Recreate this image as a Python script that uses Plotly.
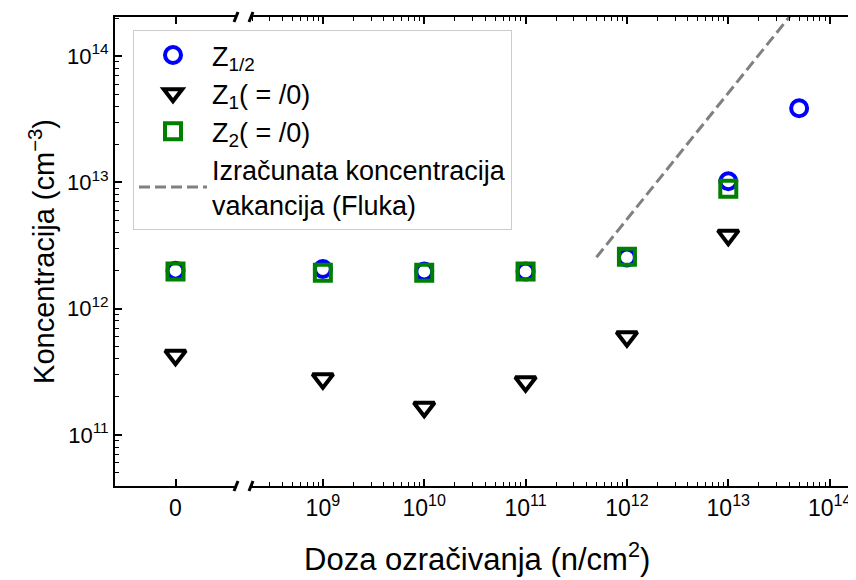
import plotly.graph_objects as go

# doza 0 ide na lijevi (linearni) dio osi, ostale doze na log dio
doza_nula = [0]
doze_z12 = [1e9, 1e10, 1e11, 1e12, 1e13, 5e13]
doze_z1 = [1e9, 1e10, 1e11, 1e12, 1e13]
doze_z2 = [1e9, 1e10, 1e11, 1e12, 1e13]

z12_nula = [2.0e12]
z12 = [2.06e12, 1.97e12, 1.97e12, 2.54e12, 1.02e13, 3.86e13]
z1_nula = [4.28e11]
z1 = [2.79e11, 1.66e11, 2.64e11, 6.0e11, 3.82e12]
z2_nula = [1.97e12]
z2 = [1.92e12, 1.92e12, 1.97e12, 2.58e12, 8.9e12]

# Fluka procjena koncentracije vakancija
fluka_doze = [5e11, 1e14]
fluka_konc = [2.55e12, 5.1e14]

x_tickovi = [1e9, 1e10, 1e11, 1e12, 1e13, 1e14]
x_oznake = ["10<sup>9</sup>", "10<sup>10</sup>", "10<sup>11</sup>", "10<sup>12</sup>",
            "10<sup>13</sup>", "10<sup>14</sup>"]
y_tickovi = [1e11, 1e12, 1e13, 1e14]
y_oznake = ["10<sup>11</sup>", "10<sup>12</sup>", "10<sup>13</sup>", "10<sup>14</sup>"]

FONT = "Liberation Sans, Arial, sans-serif"

# stranica ima 8px margine body-ja, pa je figura manja za 8px
POM = 8
SIR, VIS = 856 - POM, 580 - POM
LIJEVO, GORE, DOLJE = 115 - POM, 17 - POM, 486 - POM
sir_crt = SIR - LIJEVO
vis_crt = DOLJE - GORE

# prelom osi (u pikselima stvarne slike)
d1 = (236 - 115) / sir_crt
d2 = (251 - 115) / sir_crt

x_minor = [m * 10 ** e for e in range(8, 15) for m in range(2, 10)]
y_minor = [m * 10 ** e for e in range(10, 15) for m in range(2, 10)]

fig = go.Figure()

serije = [
    ("Z<sub>1/2</sub>", "circle-open", "#0000ff", 16, z12_nula, doze_z12, z12),
    ("Z<sub>1</sub>( = /0)", "triangle-down-open", "black", 18, z1_nula, doze_z1, z1),
    ("Z<sub>2</sub>( = /0)", "square-open", "#008000", 16, z2_nula, doze_z2, z2),
]

for ime, simbol, boja, vel, y0, xs, ys in serije:
    marker = dict(symbol=simbol, size=vel, color=boja, line=dict(width=4, color=boja))
    fig.add_trace(go.Scatter(x=doza_nula, y=y0, mode="markers", marker=marker, name=ime,
                             legendgroup=ime, showlegend=False, xaxis="x", yaxis="y"))
    fig.add_trace(go.Scatter(x=xs, y=ys, mode="markers", marker=marker, name=ime,
                             legendgroup=ime, xaxis="x2", yaxis="y"))

fig.add_trace(go.Scatter(x=fluka_doze, y=fluka_konc, mode="lines",
                         line=dict(color="#808080", width=3, dash="11px,5px"),
                         name="Izračunata koncentracija<br>vakancija (Fluka)",
                         xaxis="x2", yaxis="y2"))

os_stil = dict(ticks="inside", ticklen=7, tickwidth=1.5, tickcolor="black",
               showline=True, linewidth=1.8, linecolor="black",
               showgrid=False, zeroline=False, automargin=False)

y_raspon = [10.596, 14.309]

fig.update_layout(
    width=SIR, height=VIS,
    margin=dict(l=LIJEVO, r=0, t=GORE, b=VIS - DOLJE),
    plot_bgcolor="white", paper_bgcolor="white",
    font=dict(family=FONT, color="black"),
    xaxis=dict(domain=[0, d1], range=[-1, 1], tickvals=[0], ticktext=["0"],
               mirror="ticks", anchor="y", tickfont=dict(size=23), **os_stil),
    xaxis2=dict(domain=[d2, 1], type="log", range=[8.291, 14.26],
                tickvals=x_tickovi, ticktext=x_oznake, mirror="ticks", anchor="y",
                tickfont=dict(size=23),
                minor=dict(tickvals=x_minor, ticks="inside", ticklen=4, tickwidth=1,
                           tickcolor="black"),
                **os_stil),
    yaxis=dict(type="log", range=y_raspon, tickvals=y_tickovi, ticktext=y_oznake,
               anchor="x", tickfont=dict(size=22),
               title=dict(text="Koncentracija (cm<sup>−3</sup>)", font=dict(size=29),
                          standoff=4),
               minor=dict(tickvals=y_minor, ticks="inside", ticklen=4, tickwidth=1,
                          tickcolor="black"),
               **os_stil),
    yaxis2=dict(type="log", range=y_raspon, overlaying="y", side="right", anchor="x2",
                tickvals=y_tickovi, ticks="inside", ticklen=7, tickwidth=1.5,
                tickcolor="black", showticklabels=False, showline=False,
                showgrid=False, zeroline=False, automargin=False),
    legend=dict(x=(133 - 115) / sir_crt, y=(486 - 30) / vis_crt, xanchor="left",
                yanchor="top", bgcolor="rgba(255,255,255,0.8)", bordercolor="#cccccc",
                borderwidth=1, font=dict(size=27), itemwidth=68, tracegroupgap=0),
    annotations=[dict(text="Doza ozračivanja (n/cm<sup>2</sup>)", xref="paper", yref="paper",
                      x=0.5, y=0, yanchor="top", xshift=-9, yshift=-49, showarrow=False,
                      font=dict(size=31))],
)

# oznake preloma osi (//) dolje i gore
for xp in [d1, d2]:
    for yp in [0, 1]:
        fig.add_shape(type="line", xref="paper", yref="paper", xsizemode="pixel",
                      ysizemode="pixel", xanchor=xp, yanchor=yp, x0=-2, x1=2, y0=-5, y1=5,
                      line=dict(color="black", width=3))

fig.write_html("out.html")
